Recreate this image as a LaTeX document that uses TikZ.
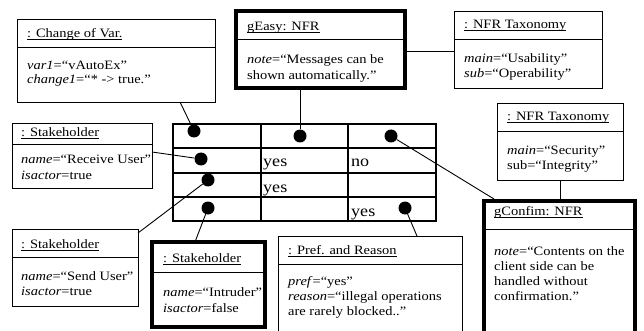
\documentclass[tikz,border=0pt]{standalone}
\usepackage{fontspec}
\setmainfont{Liberation Serif}[FakeStretch=1.13]
\usetikzlibrary{fit}

% underlined object title with a fixed underline depth
\newcommand\objtitle[1]{\setbox0=\hbox{#1}\rlap{\rule[-2.2pt]{\wd0}{0.7pt}}\box0}

\tikzset{
  objbox/.style={draw, line width=0.9pt, inner sep=0pt},
  nfrbox/.style={draw, line width=4pt, inner sep=0pt},
  sepline/.style={line width=0.9pt},
  txt/.style={inner sep=0pt, anchor=base west, font=\fontsize{12.8}{15}\selectfont},
  cell/.style={inner sep=0pt, anchor=base west, font=\fontsize{16}{18}\selectfont},
  gridline/.style={line width=2.4pt},
  dot/.style={circle, fill=black, inner sep=0pt, minimum size=13pt},
  link/.style={line width=0.9pt}
}

\begin{document}
\begin{tikzpicture}[x=1pt, y=-1pt]
\useasboundingbox (0,0) rectangle (644,331);
\fill[white] (0,0) rectangle (644,331);
\clip (0,0) rectangle (644,331);

% ---------- preference table ----------
\node[fit={(173,124) (436,221)}, draw, gridline, inner sep=0pt] (tbl) {};
\draw[gridline] (173,148) -- (436,148);
\draw[gridline] (173,173) -- (436,173);
\draw[gridline] (173,197) -- (436,197);
\draw[gridline] (261,124) -- (261,221);
\draw[gridline] (348,124) -- (348,221);
\node[cell] (c22) at (263,167) {yes};
\node[cell] (c23) at (351,167) {no};
\node[cell] (c32) at (263,192) {yes};
\node[cell] (c43) at (351,216) {yes};

% ---------- objects ----------
% Change of Var.
\node[objbox, fit={(17,19) (215,102)}] (cv) {};
\draw[sepline] (17,47) -- (215,47);
\node[txt] (cv-t) at (27,38) {\objtitle{: Change of Var.}};
\node[txt] (cv-1) at (27,70) {\textit{var1}=“vAutoEx”};
\node[txt] (cv-2) at (27,84) {\textit{change1}=“* -> true.”};

% gEasy: NFR
\node[nfrbox, fit={(236,11.5) (405,88)}] (ge) {};
\draw[sepline] (236,39) -- (405,39);
\node[txt] (ge-t) at (247,31) {\objtitle{gEasy: NFR}};
\node[txt] (ge-1) at (247,64) {\textit{note}=“Messages can be};
\node[txt] (ge-2) at (247,80) {shown automatically.”};

% NFR Taxonomy (usability)
\node[objbox, fit={(454,11) (602,88)}] (t1) {};
\draw[sepline] (454,39) -- (602,39);
\node[txt] (t1-t) at (464,29) {\objtitle{: NFR Taxonomy}};
\node[txt] (t1-1) at (464,63) {\textit{main}=“Usability”};
\node[txt] (t1-2) at (464,78) {\textit{sub}=“Operability”};

% NFR Taxonomy (security)
\node[objbox, fit={(497,103) (623,180)}] (t2) {};
\draw[sepline] (497,131) -- (623,131);
\node[txt] (t2-t) at (507,121) {\objtitle{: NFR Taxonomy}};
\node[txt] (t2-1) at (507,154) {\textit{main}=“Security”};
\node[txt] (t2-2) at (507,169) {sub=“Integrity”};

% gConfim: NFR
\node[nfrbox, fit={(484,201) (635,345)}] (gc) {};
\draw[sepline] (484,229) -- (635,229);
\node[txt] (gc-t) at (494,215) {\objtitle{gConfim: NFR}};
\node[txt] (gc-1) at (494,255) {\textit{note}=“Contents on the};
\node[txt] (gc-2) at (494,270) {client side can be};
\node[txt] (gc-3) at (494,285) {handled without};
\node[txt] (gc-4) at (494,300) {confirmation.”};

% Stakeholder: Receive User
\node[objbox, fit={(12,123) (152,188)}] (rr) {};
\draw[sepline] (12,144) -- (152,144);
\node[txt] (rr-t) at (21,137) {\objtitle{: Stakeholder}};
\node[txt] (rr-1) at (21,164) {\textit{name}=“Receive User”};
\node[txt] (rr-2) at (21,179) {\textit{isactor}=true};

% Stakeholder: Send User
\node[objbox, fit={(12,229) (138,306)}] (su) {};
\draw[sepline] (12,257) -- (138,257);
\node[txt] (su-t) at (21,248) {\objtitle{: Stakeholder}};
\node[txt] (su-1) at (21,280) {\textit{name}=“Send User”};
\node[txt] (su-2) at (21,295) {\textit{isactor}=true};

% Stakeholder: Intruder
\node[nfrbox, fit={(152,242) (264.5,327)}] (in) {};
\draw[sepline] (152,272) -- (264.5,272);
\node[txt] (in-t) at (163,262) {\objtitle{: Stakeholder}};
\node[txt] (in-1) at (163,296) {\textit{name}=“Intruder”};
\node[txt] (in-2) at (163,312) {\textit{isactor}=false};

% Pref. and Reason
\node[objbox, fit={(278,236) (462,345)}] (pr) {};
\draw[sepline] (278,264) -- (462,264);
\node[txt] (pr-t) at (288,254) {\objtitle{: Pref. and Reason}};
\node[txt] (pr-1) at (288,285) {\textit{pref}=“yes”};
\node[txt] (pr-2) at (288,300) {\textit{reason}=“illegal operations};
\node[txt] (pr-3) at (288,315) {are rarely blocked..”};

% ---------- link points on object borders ----------
\coordinate (cv-a) at (180,102);
\coordinate (rr-a) at (152,152);
\coordinate (su-a) at (138,233);
\coordinate (in-a) at (195,242);
\coordinate (pr-a) at (417,236);
\coordinate (gc-a) at (494,199);
\coordinate (ge-a) at (405,51);
\coordinate (t1-a) at (454,51);
\coordinate (t2-a) at (560,180);
\coordinate (gc-b) at (560,199);

% ---------- reference dots ----------
\node[dot] (d11) at (194,131) {};
\node[dot] (d12) at (300,136) {};
\node[dot] (d13) at (391,136) {};
\node[dot] (d21) at (201,159) {};
\node[dot] (d31) at (208,180) {};
\node[dot] (d41) at (208,208) {};
\node[dot] (d43) at (405,208) {};

% ---------- links ----------
\draw[link] (cv-a) -- (d11);
\draw[link] (ge.south -| d12) -- (d12);
\draw[link] (ge-a) -- (t1-a);
\draw[link] (rr-a) -- (d21);
\draw[link] (su-a) -- (d31);
\draw[link] (in-a) -- (d41);
\draw[link] (pr-a) -- (d43);
\draw[link] (d13) -- (gc-a);
\draw[link] (t2-a) -- (gc-b);
\end{tikzpicture}
\end{document}
